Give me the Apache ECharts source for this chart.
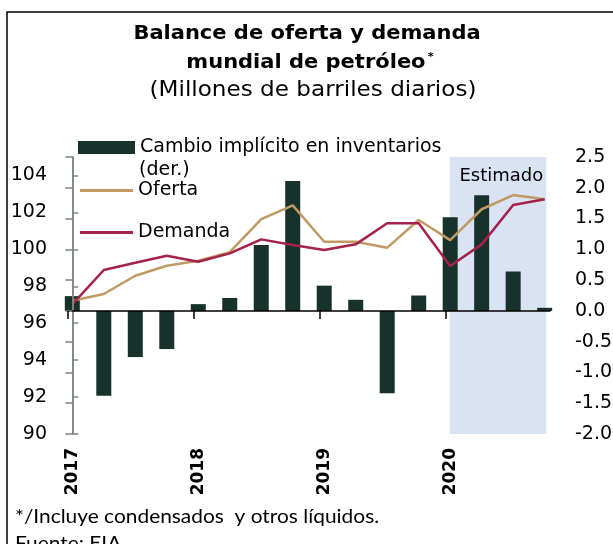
<!DOCTYPE html>
<html>
<head>
<meta charset="utf-8">
<script src="https://cdn.jsdelivr.net/npm/echarts@6/dist/echarts.min.js"></script>
<style>
html,body{margin:0;padding:0;background:#fff;}
#c{width:613px;height:544px;}
</style>
</head>
<body>
<div id="c"></div>
<script>
// ---- data ----
const categories = ['2017-T1','2017-T2','2017-T3','2017-T4','2018-T1','2018-T2','2018-T3','2018-T4',
                    '2019-T1','2019-T2','2019-T3','2019-T4','2020-T1','2020-T2','2020-T3','2020-T4'];
const yearLabels = ['2017','2018','2019','2020'];
const leftTicks = [90,92,94,96,98,100,102,104];
const inventarios = [0.24,-1.38,-0.75,-0.62,0.11,0.21,1.07,2.11,0.41,0.18,-1.34,0.25,1.52,1.88,0.64,0.05];
const oferta  = [97.22,97.58,98.57,99.11,99.38,99.85,101.64,102.38,100.41,100.41,100.09,101.59,100.50,102.17,102.94,102.71];
const demanda = [97.02,98.88,99.27,99.65,99.33,99.78,100.54,100.23,99.96,100.27,101.41,101.41,99.10,100.27,102.40,102.71];
const estimadoDesde = '2020-T1';

// ---- layout helpers ----
const FONT = 'DejaVu Sans';
const xMin = -0.137, xMax = 15.17;
const firstQuarterIdx = categories.map((c,i)=>c.endsWith('T1') ? i : -1).filter(i=>i>=0);
const yearTickPos = firstQuarterIdx.map(i=>i + xMin);
const pts = arr => arr.map((v,i)=>[i, v]);
const estStart = categories.indexOf(estimadoDesde);
const legendText = {fontFamily:FONT, fontSize:19, color:'#000'};

const chart = echarts.init(document.getElementById('c'), null, {renderer:'canvas'});
chart.setOption({
  animation:false,
  backgroundColor:'#fff',
  grid:{left:68, right:63, top:157, bottom:110, containLabel:false, outerBoundsMode:'none'},
  legend:[
    {data:['Cambio implícito en inventarios'], left:78, top:138, padding:0, itemGap:0,
     itemWidth:57, itemHeight:13, icon:'rect', selectedMode:false, textStyle:legendText},
    {data:['Oferta'], left:80, top:181, padding:0, itemGap:0, icon:'rect',
     itemWidth:53, itemHeight:3, selectedMode:false, textStyle:legendText},
    {data:['Demanda'], left:80, top:223, padding:0, itemGap:0, icon:'rect',
     itemWidth:53, itemHeight:3, selectedMode:false, textStyle:legendText}
  ],
  xAxis:[
    {type:'value', min:xMin, max:xMax, z:6,
     axisLine:{show:true, onZero:true, onZeroAxisIndex:1, lineStyle:{color:'#000', width:1.5}},
     axisTick:{show:true, customValues:yearTickPos, length:8, lineStyle:{color:'#000', width:1.5}},
     axisLabel:{show:false}, splitLine:{show:false}},
    {type:'value', min:xMin, max:xMax, z:6,
     axisLine:{show:false, onZero:true, onZeroAxisIndex:1},
     axisTick:{show:true, inside:true, customValues:yearTickPos, length:8, lineStyle:{color:'#000', width:1.5}},
     axisLabel:{show:false}, splitLine:{show:false}},
    {type:'value', min:xMin, max:xMax, position:'bottom', z:6,
     axisLine:{show:false, onZero:false}, axisTick:{show:false}, splitLine:{show:false},
     axisLabel:{show:true, customValues:firstQuarterIdx, rotate:90, margin:14,
       fontFamily:FONT, fontWeight:'bold', fontSize:17, color:'#000',
       formatter:v=>yearLabels[firstQuarterIdx.indexOf(Math.round(v))] || ''}}
  ],
  yAxis:[
    {type:'value', min:90, max:105, position:'left', z:6,
     axisLine:{show:true, lineStyle:{color:'#7d8c88', width:1.5}},
     axisTick:{show:true, inside:true, length:6, customValues:leftTicks, lineStyle:{color:'#7d8c88', width:1.5}},
     splitLine:{show:false},
     axisLabel:{customValues:leftTicks, margin:21, fontFamily:FONT, fontSize:19, color:'#000', padding:[9,0,0,0]}},
    {type:'value', min:-2, max:2.5, interval:0.5, position:'right', z:6,
     axisLine:{show:true, lineStyle:{color:'#808080', width:1.5}},
     axisTick:{show:true, inside:true, length:7, lineStyle:{color:'#808080', width:1.5}},
     splitLine:{show:false},
     axisLabel:{margin:25, fontFamily:FONT, fontSize:19, color:'#000', padding:[10,0,0,0],
       formatter:v=>v.toFixed(1)}}
  ],
  series:[
    {name:'Cambio implícito en inventarios', type:'bar', xAxisIndex:0, yAxisIndex:1, clip:true,
     data:pts(inventarios), barWidth:15, itemStyle:{color:'#17312b'}, z:2,
     markArea:{silent:true, itemStyle:{color:'#dae3f3'},
       label:{show:true, position:'insideTopRight', distance:6, offset:[3,4], fontFamily:FONT, fontSize:18, color:'#000'},
       data:[[{name:'Estimado', xAxis:estStart - 0.01}, {xAxis:xMax - 0.12}]]}},
    {name:'Oferta', type:'line', xAxisIndex:0, yAxisIndex:0, data:pts(oferta),
     symbol:'none', lineStyle:{color:'#c09a65', width:2.5}, itemStyle:{color:'#c09a65'}, z:3},
    {name:'Demanda', type:'line', xAxisIndex:0, yAxisIndex:0, data:pts(demanda),
     symbol:'none', lineStyle:{color:'#a5214b', width:2.5}, itemStyle:{color:'#a5214b'}, z:3}
  ],
  graphic:[
    {type:'rect', shape:{x:7, y:12, width:700, height:600}, style:{fill:'none', stroke:'#000', lineWidth:1.5}, z:0},
    {type:'text', x:307, y:34, scaleX:1.05,
     style:{text:'Balance de oferta y demanda', fontFamily:FONT, fontWeight:'bold', fontSize:20, fill:'#000', align:'center', verticalAlign:'middle'}},
    {type:'text', x:310, y:63, scaleX:1.05,
     style:{text:'{a|mundial de petróleo}{s|*}', align:'center', verticalAlign:'middle',
       rich:{a:{fontFamily:FONT, fontWeight:'bold', fontSize:20, fill:'#000'},
             s:{fontFamily:FONT, fontWeight:'bold', fontSize:11, fill:'#000', verticalAlign:'top', padding:[0,0,12,2]}}}},
    {type:'text', x:313, y:91, scaleX:1.1,
     style:{text:'(Millones de barriles diarios)', fontFamily:FONT, fontSize:21, fill:'#000', align:'center', verticalAlign:'middle'}},
    {type:'text', x:139, y:170,
     style:{text:'(der.)', fontFamily:FONT, fontSize:19, fill:'#000', align:'left', verticalAlign:'middle'}},
    {type:'text', x:15, y:517, scaleX:1.1,
     style:{text:'*/Incluye condensados  y otros líquidos.', fontFamily:'Lato', fontSize:19, fill:'#000', align:'left', verticalAlign:'middle'}},
    {type:'text', x:15, y:544, scaleX:1.1,
     style:{text:'Fuente: EIA', fontFamily:'Lato', fontSize:19, fill:'#000', align:'left', verticalAlign:'middle'}}
  ]
});
</script>
</body>
</html>
